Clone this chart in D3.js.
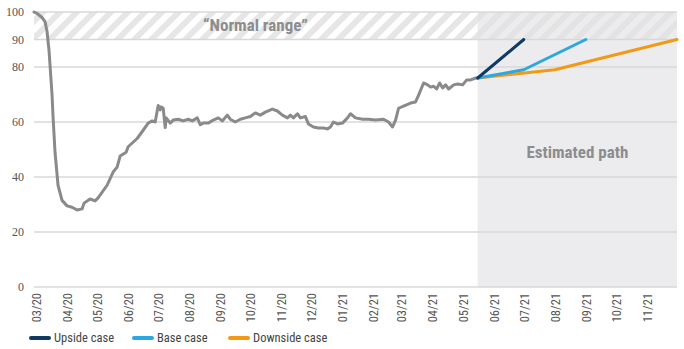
<!DOCTYPE html>
<html><head><meta charset="utf-8">
<script src="https://cdn.jsdelivr.net/npm/d3@7"></script>
<style>
body{margin:0;background:#fff;}
svg{display:block;}
</style></head>
<body><svg id="c" width="684" height="349"></svg>
<script>
// ---- data ----
const yTicks = [0, 20, 40, 60, 80, 90, 100];
const monthTicks = ["2020-03-01","2020-04-01","2020-05-01","2020-06-01","2020-07-01","2020-08-01","2020-09-01","2020-10-01","2020-11-01","2020-12-01","2021-01-01","2021-02-01","2021-03-01","2021-04-01","2021-05-01","2021-06-01","2021-07-01","2021-08-01","2021-09-01","2021-10-01","2021-11-01"];
const histDates = ["2020-02-28","2020-03-02","2020-03-07","2020-03-10","2020-03-12","2020-03-14","2020-03-17","2020-03-18","2020-03-20","2020-03-23","2020-03-27","2020-04-01","2020-04-06","2020-04-11","2020-04-16","2020-04-18","2020-04-24","2020-04-29","2020-05-02","2020-05-11","2020-05-17","2020-05-21","2020-05-24","2020-05-30","2020-06-01","2020-06-10","2020-06-16","2020-06-21","2020-06-25","2020-06-28","2020-07-01","2020-07-03","2020-07-04","2020-07-06","2020-07-08","2020-07-09","2020-07-13","2020-07-16","2020-07-21","2020-07-26","2020-07-31","2020-08-04","2020-08-09","2020-08-12","2020-08-15","2020-08-20","2020-08-25","2020-08-30","2020-09-03","2020-09-08","2020-09-11","2020-09-16","2020-09-21","2020-09-26","2020-10-01","2020-10-06","2020-10-11","2020-10-16","2020-10-23","2020-10-28","2020-11-02","2020-11-07","2020-11-10","2020-11-13","2020-11-17","2020-11-20","2020-11-25","2020-11-28","2020-12-03","2020-12-08","2020-12-13","2020-12-17","2020-12-20","2020-12-23","2020-12-27","2021-01-01","2021-01-06","2021-01-09","2021-01-14","2021-01-21","2021-01-27","2021-02-03","2021-02-11","2021-02-16","2021-02-20","2021-02-23","2021-02-26","2021-03-03","2021-03-10","2021-03-15","2021-03-18","2021-03-23","2021-03-27","2021-03-30","2021-04-02","2021-04-05","2021-04-08","2021-04-11","2021-04-14","2021-04-17","2021-04-22","2021-04-26","2021-05-01","2021-05-05","2021-05-09","2021-05-14","2021-05-16"];
const histValues = [100,99.5,98,96.5,93,86,70,62,49,37,31.5,29.5,29,28,28.4,30.5,32,31.3,32.4,37,41.8,43.6,47.6,49,51,54,57,59.6,60.4,60,66,64.4,65.5,65,58,61.5,59.6,60.7,61,60.4,61,60.4,61.5,59,59.6,59.6,60.7,61.5,60.4,62.5,61,60,61,61.5,62,63.3,62.5,63.6,64.7,64,62.5,61.5,62.5,61.5,63,61.5,62,59.3,58.2,57.8,57.8,57.5,58.2,60,59.3,59.6,61.5,63,61.5,61,61,60.7,61,60,58.2,60.7,65,65.8,66.9,67.3,69.8,74.2,73.5,72.7,73,72,74.2,72.4,73.5,72,73.5,73.8,73.5,75.3,75.3,76,76];
const upsideDates = ["2021-05-16","2021-07-01"];
const upsideValues = [76, 90];
const baseDates = ["2021-05-16","2021-07-01","2021-09-01"];
const baseValues = [76, 79, 90];
const downsideDates = ["2021-05-16","2021-08-01","2021-12-01"];
const downsideValues = [76, 79, 90];
const estimateStart = "2021-05-16";
const normalRange = [90, 100];
const legendLabels = ["Upside case", "Base case", "Downside case"];
const colors = {hist:"#8a8a8c", upside:"#0e3a63", base:"#2aa8df", downside:"#f29a16"};

// ---- chart ----
const svg = d3.select("#c");
const parse = d3.utcParse("%Y-%m-%d");
const x = d3.scaleUtc().domain([parse("2020-03-01"), parse("2021-12-01")]).range([36, 677]);
const y = d3.scaleLinear().domain([0, 100]).range([287, 12]);
const left = 34, right = 677;
const narrow = "'Liberation Sans Narrow','Arial Narrow','Roboto Condensed',sans-serif";

const defs = svg.append("defs");
const pat = defs.append("pattern").attr("id","hatch").attr("patternUnits","userSpaceOnUse")
  .attr("width",12).attr("height",12).attr("patternTransform","rotate(45)");
pat.append("rect").attr("x",0).attr("y",0).attr("width",6).attr("height",12).attr("fill","#e2e2e2").attr("fill-opacity",0.85);

// estimated path region
const xs = x(parse(estimateStart));
svg.append("rect").attr("x", xs).attr("y", y(100)).attr("width", right - xs).attr("height", y(0) - y(100)).attr("fill","#ececee");

// normal range band
svg.append("rect").attr("x", left).attr("y", y(normalRange[1])).attr("width", right-left)
  .attr("height", y(normalRange[0]) - y(normalRange[1])).attr("fill","url(#hatch)");

// gridlines
svg.append("g").selectAll("line").data(yTicks).join("line")
  .attr("x1", left).attr("x2", right).attr("y1", d=>y(d)).attr("y2", d=>y(d))
  .attr("stroke","#d8d8d8").attr("stroke-width",1.5);

// y axis
const ya = svg.append("g").attr("transform",`translate(${left},0)`)
  .call(d3.axisLeft(y).tickValues(yTicks).tickSize(0).tickPadding(10));
ya.select(".domain").remove();
ya.selectAll("text").attr("font-family","'Liberation Serif','DejaVu Serif',serif").attr("font-size",12).attr("fill","#555");

// x axis
const xa = svg.append("g").attr("transform",`translate(0,${y(0)})`)
  .call(d3.axisBottom(x).tickValues(monthTicks.map(parse)).tickFormat(d3.utcFormat("%m/%y")).tickSize(0));
xa.select(".domain").remove();
xa.selectAll("text").attr("font-family", narrow).attr("font-size",12.5).attr("fill","#555")
  .attr("text-anchor","end").attr("transform","rotate(-90)").attr("x",-6).attr("y",0).attr("dy","0.35em");

// annotations
svg.append("text").attr("x",203).attr("y",31).text("\u201cNormal range\u201d")
  .attr("font-family",narrow).attr("font-weight","bold").attr("font-size",17).attr("fill","#8d8d8f");
svg.append("text").attr("x",(xs+right)/2).attr("y",158).attr("text-anchor","middle").text("Estimated path")
  .attr("font-family",narrow).attr("font-weight","bold").attr("font-size",17).attr("fill","#8d8d8f");

// lines
const line = d3.line().x(d=>x(d[0])).y(d=>y(d[1]));
function draw(dates, vals, col, w){
  svg.append("path").datum(dates.map((d,i)=>[parse(d), vals[i]])).attr("d", line)
    .attr("fill","none").attr("stroke",col).attr("stroke-width",w)
    .attr("stroke-linejoin","round").attr("stroke-linecap","round");
}
draw(histDates, histValues, colors.hist, 3);
draw(downsideDates, downsideValues, colors.downside, 3);
draw(baseDates, baseValues, colors.base, 3);
draw(upsideDates, upsideValues, colors.upside, 3);

// legend
const legX = [31, 134, 230];
const legCols = [colors.upside, colors.base, colors.downside];
const lg = svg.append("g");
legendLabels.forEach((t,i)=>{
  lg.append("line").attr("x1",legX[i]).attr("x2",legX[i]+18).attr("y1",338).attr("y2",338)
    .attr("stroke",legCols[i]).attr("stroke-width",4).attr("stroke-linecap","round");
  lg.append("text").attr("x",legX[i]+23).attr("y",338).attr("dy","0.35em").text(t)
    .attr("font-family",narrow).attr("font-size",12.5).attr("fill","#444");
});
</script>
</body></html>
